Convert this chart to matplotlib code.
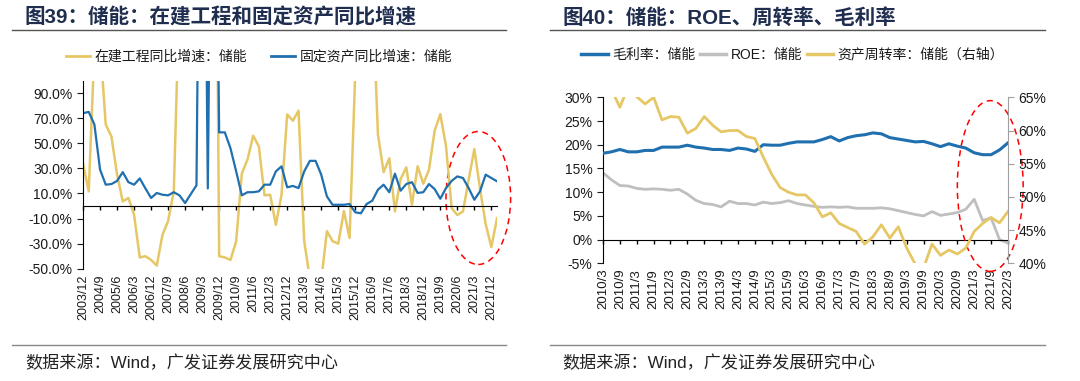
import matplotlib
matplotlib.use("Agg")
import matplotlib.pyplot as plt
from matplotlib.lines import Line2D
from matplotlib.patches import Ellipse

plt.rcParams["font.family"] = ["Liberation Sans", "Noto Sans CJK SC"]

YELLOW = "#E6C766"
BLUE = "#2070B0"
GRAY = "#BFBFBF"
NAVY = "#1F2D4F"
TEXT = "#1A1A1A"

# ---- chart 39: quarterly, 2003/12 .. 2022/3 ----
quarters_39 = [f"{2003 + (q + 11) // 12}/{(q + 11) % 12 + 1}" for q in range(0, 74 * 3, 3)]
construction_yoy = [33.5, 11.7, 125, 130, 65, 55.5, 25, 3.7, 6.4, -7,
                    -41, -40, -43, -47.5, -23, -12, 11.7, 170, 250, 300,
                    350, 400, 450, 550, -40, -41, -43, -28, 26, 37,
                    56, 47.5, 8.5, 9, -15, 9, 73, 68, 76, -28,
                    -58, -70, -60, -20, -28, -30, -4, -25.5, 106, 200,
                    220, 176, 57, 27, 38, -4.3, 21.5, 30.8, 1, 31.7,
                    17.8, 28.8, 60, 73.2, 48, -1.7, -7.2, -4.3, 21, 45.4,
                    14, -14.4, -32.7, -9.7]
fixed_asset_yoy = [74, 75, 65, 29, 17, 17.5, 20, 27, 19, 17,
                   22, 14, 6.4, 10.4, 9, 8.5, 11, 8.5, 2.4, 9.5,
                   16.5, 500, 14, 470, 58.7, 58.7, 46, 27.6, 8.5, 11,
                   11, 11.7, 17, 17, 27.6, 31.6, 14.9, 16, 14.3, 27.6,
                   36, 36, 25, 7.7, 1, 1, 1, 1.6, -5, -5.8,
                   1.6, 4.2, 13, 17, 11, 25.8, 12.2, 17.5, 19, 10.4,
                   11, 17.5, 13.5, 5.8, 14.3, 20, 23.6, 22.3, 14.3, 5,
                   11.7, 25, 22.3, 19.7]

# ---- chart 40: quarterly, 2010/3 .. 2022/3 ----
quarters_40 = [f"{2010 + q // 4}/{(q % 4) * 3 + 3}" for q in range(49)]
gross_margin = [18.2, 18.5, 19.0, 18.5, 18.5, 18.8, 18.8, 19.5, 19.5, 19.5,
                19.9, 19.5, 19.3, 19.0, 19.0, 18.8, 19.3, 19.1, 18.6, 20.0,
                19.9, 19.9, 20.3, 20.6, 20.6, 20.6, 21.1, 21.7, 20.8, 21.5,
                21.9, 22.1, 22.5, 22.3, 21.5, 21.2, 20.9, 20.6, 20.7, 20.2,
                19.6, 20.2, 19.7, 19.3, 18.3, 17.9, 17.9, 18.9, 20.4]
roe = [14.1, 12.6, 11.4, 11.3, 10.8, 10.6, 10.7, 10.6, 10.4, 10.6,
       9.6, 8.3, 7.6, 7.4, 6.9, 8.1, 7.6, 7.6, 7.3, 7.9,
       7.6, 7.8, 8.2, 7.6, 7.3, 7.0, 6.8, 6.9, 6.8, 6.9,
       6.6, 6.6, 6.6, 6.7, 6.5, 6.1, 5.7, 5.3, 5.0, 5.9,
       5.1, 5.4, 5.7, 6.4, 8.5, 4.0, 4.6, 0.0, -0.7]
asset_turnover = [68.0, 66.2, 63.5, 66.6, 65.1, 64.0, 65.0, 61.6, 62.1, 62.0,
                  59.6, 60.3, 62.1, 60.8, 59.8, 60.0, 60.0, 59.1, 58.8, 56.0,
                  53.4, 51.4, 50.7, 50.3, 50.3, 49.1, 47.0, 47.6, 46.0, 45.4,
                  44.8, 42.9, 44.0, 45.8, 43.8, 45.5, 42.3, 39.9, 39.3, 42.9,
                  41.2, 42.0, 41.4, 42.3, 44.8, 46.0, 46.9, 46.1, 47.8]


def low_labels(ax, ticks, labels, size):
    # axis line sits at zero, labels hang at the bottom of the plot
    ax.spines["bottom"].set_position(("data", 0))
    ax.set_xticks(ticks)
    ax.tick_params(axis="x", direction="out", length=3, width=1, labelbottom=False)
    sec = ax.secondary_xaxis("bottom")
    sec.set_xticks(ticks, labels=labels, rotation=90)
    sec.tick_params(length=0, pad=4, labelsize=size, colors=TEXT)
    sec.spines["bottom"].set_visible(False)


fig = plt.figure(figsize=(10.8, 3.81), dpi=100)

# titles, rules and footers
for x0, x1, tx, title in [(0.011, 0.4685, 0.023, "图39：储能：在建工程和固定资产同比增速"),
                          (0.509, 0.9676, 0.521, "图40：储能：ROE、周转率、毛利率")]:
    fig.text(tx, 0.953, title, fontsize=14.8, fontweight="bold", color=NAVY, va="center")
    fig.add_artist(Line2D([x0, x1], [0.921, 0.921], color="#555555", lw=1))
    fig.add_artist(Line2D([x0, x1], [0.0945, 0.0945], color="#888888", lw=1))
    fig.text(tx, 0.047, "数据来源：Wind，广发证券发展研究中心", fontsize=12.3, color="#222222", va="center")

# ---- left chart ----
ax = fig.add_axes([0.0769, 0.2946, 0.3833, 0.494])
x39 = list(range(len(quarters_39)))
ax.plot(x39, construction_yoy, color=YELLOW, lw=1.8)
ax.plot(x39, fixed_asset_yoy, color=BLUE, lw=1.6)
ax.set_xlim(0, len(x39) - 1)
ax.set_ylim(-50, 100)
ax.set_yticks(range(-50, 91, 20))
ax.set_yticklabels([f"{v:.1f}%" for v in range(-50, 91, 20)])
ax.tick_params(axis="y", direction="out", length=4, labelsize=10, colors=TEXT)
for s in ["top", "right"]:
    ax.spines[s].set_visible(False)
low_labels(ax, x39[::3], quarters_39[::3], 9)
ax.add_patch(Ellipse((69.7, 6.4), 11.4, 106, fill=False, ec="red", ls=(0, (4, 3)), lw=1.1, clip_on=False))

fig.legend([Line2D([], [], color=YELLOW, lw=2), Line2D([], [], color=BLUE, lw=2)],
           ["在建工程同比增速：储能", "固定资产同比增速：储能"],
           loc="center", bbox_to_anchor=(0.24, 0.851), ncol=2, frameon=False, fontsize=10,
           handlelength=1.7, handletextpad=0.35, columnspacing=1.7, labelcolor=TEXT)

# ---- right chart ----
bx = fig.add_axes([0.5583, 0.3089, 0.3750, 0.4357])
x40 = list(range(len(quarters_40)))
bx.plot(x40, gross_margin, color=BLUE, lw=2.2, zorder=3)
bx.plot(x40, roe, color=GRAY, lw=2.0, zorder=2)
bx.set_xlim(0, len(x40) - 1)
bx.set_ylim(-5, 30)
bx.set_yticks(range(-5, 31, 5))
bx.set_yticklabels([f"{v}%" for v in range(-5, 31, 5)])
bx.tick_params(axis="y", direction="out", length=4, labelsize=10, colors=TEXT)
bx.spines["top"].set_visible(False)
bx.spines["right"].set_visible(False)
low_labels(bx, x40[::2], quarters_40[::2], 9.5)

bx2 = bx.twinx()
bx2.plot(x40, asset_turnover, color=YELLOW, lw=2.0)
bx2.set_ylim(40, 65)
bx2.set_yticks(range(40, 66, 5))
bx2.set_yticklabels([f"{v}%" for v in range(40, 66, 5)])
bx2.tick_params(axis="y", direction="out", length=4, labelsize=10, colors=TEXT, color="#A0A0A0")
for s in ["top", "left", "bottom"]:
    bx2.spines[s].set_visible(False)
bx2.spines["right"].set_color("#A0A0A0")
bx.add_patch(Ellipse((45.9, 11.3), 7.8, 36, fill=False, ec="red", ls=(0, (4, 3)), lw=1.1,
                     clip_on=False, zorder=5))

leg = fig.legend([Line2D([], [], color=BLUE, lw=2.5), Line2D([], [], color=GRAY, lw=2.5),
                  Line2D([], [], color=YELLOW, lw=2.5)],
                 ["毛利率：储能", "ROE：储能", "资产周转率：储能（右轴）"],
                 loc="center", bbox_to_anchor=(0.734, 0.856), ncol=3, frameon=False, fontsize=10,
                 handlelength=1.9, handletextpad=0.3, columnspacing=0.35, labelcolor=TEXT)

fig.savefig("out.png", dpi=100)
